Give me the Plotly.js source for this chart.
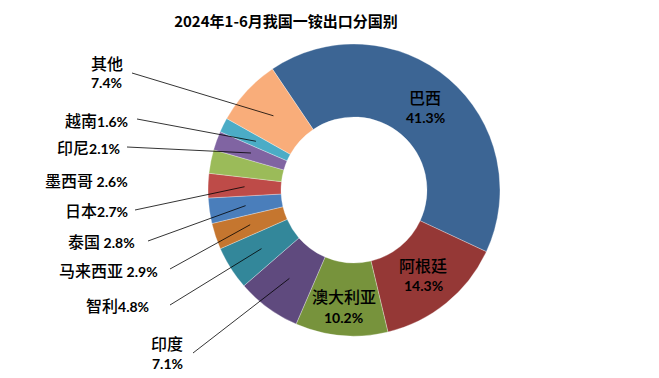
<!DOCTYPE html>
<html><head><meta charset="utf-8">
<script src="https://cdn.plot.ly/plotly-3.0.1.min.js"></script>
<style>html,body{margin:0;padding:0;background:#fff}#chart{width:659px;height:378px}</style>
</head><body><div id="chart"></div>
<script>
const countries = ['巴西','阿根廷','澳大利亚','印度','智利','马来西亚','泰国','日本','墨西哥','印尼','越南','其他'];
const shares = [41.3,14.3,10.2,7.1,4.8,2.9,2.8,2.7,2.6,2.1,1.6,7.4];
const pctLabels = ['41.3%','14.3%','10.2%','7.1%','4.8%','2.9%','2.8%','2.7%','2.6%','2.1%','1.6%','7.4%'];
const colors = ['#3C6594','#953836','#77933C','#5F4A7E','#33879A','#C5762F','#4A7EBB','#BE4B48','#9BBB59','#8064A2','#4BACC6','#F9AD7A'];

const W=659,H=378;
const cx=354, cy=190, R=146, holeFrac=0.5, rotation=-34;
const px=x=>x/W, py=y=>1-y/H;
const CJK='"Noto Sans CJK SC", sans-serif';
const NUM='Lato, "Noto Sans CJK SC", sans-serif';

// slice mid angles (clockwise from 12 o'clock)
const total=shares.reduce((a,b)=>a+b,0);
const mids=[]; let acc=rotation;
shares.forEach(s=>{const a=s/total*360; mids.push(acc+a/2); acc+=a;});
const ringMid=R*(1+holeFrac)/2;
const ptAt=(i,r)=>{const t=mids[i]*Math.PI/180; return [cx+r*Math.sin(t), cy-r*Math.cos(t)];};

const annotations=[], shapes=[];
// inside labels for the three biggest slices
[0,1,2].forEach(i=>{
  const [x,y]=ptAt(i,ringMid+(i===2?7:0));
  annotations.push({xref:'paper',yref:'paper',x:px(x),y:py(y-10),text:countries[i],showarrow:false,
    font:{family:CJK,size:16,color:'#000',weight:500},xanchor:'center',yanchor:'middle'});
  annotations.push({xref:'paper',yref:'paper',x:px(x),y:py(y+11),text:'<b>'+pctLabels[i]+'</b>',showarrow:false,
    font:{family:NUM,size:14,color:'#000'},xanchor:'center',yanchor:'middle'});
});
// outside labels: [index, text anchor x, y, mode, line start x, y]
const outside=[
  [11,107,73,'two',132,73],
  [10,130,120,'right',137,119],
  [9,122,147,'right',127,147],
  [8,130,180,'right',null,null],
  [7,130,210,'right',135,210],
  [6,137,241,'right',148,241],
  [5,160,270,'right',170,269],
  [4,151,305,'right',170,305],
  [3,167,353,'two',193,353]
];
outside.forEach(([i,x,y,mode,lx,ly])=>{
  if(mode==='two'){
    annotations.push({xref:'paper',yref:'paper',x:px(x),y:py(y-10),text:countries[i],showarrow:false,
      font:{family:CJK,size:16,color:'#000',weight:500},xanchor:'center',yanchor:'middle'});
    annotations.push({xref:'paper',yref:'paper',x:px(x),y:py(y+10),text:'<b>'+pctLabels[i]+'</b>',showarrow:false,
      font:{family:NUM,size:14,color:'#000'},xanchor:'center',yanchor:'middle'});
  } else {
    const sep=(i===8||i===6||i===5)?' ':'';
    annotations.push({xref:'paper',yref:'paper',x:px(x),y:py(y),
      text:'<span style="font-family:'+CJK.replace(/"/g,"'")+';font-size:16px;font-weight:500">'+countries[i]+'</span>'+sep+'<b>'+pctLabels[i]+'</b>',
      showarrow:false,font:{family:NUM,size:14,color:'#000'},xanchor:'right',yanchor:'middle'});
  }
  if(lx!==null){
    const [ex,ey]=ptAt(i,ringMid);
    shapes.push({type:'line',xref:'paper',yref:'paper',x0:px(lx),y0:py(ly),x1:px(ex),y1:py(ey),
      line:{color:'#000',width:0.8}});
  }
});

const data=[{type:'pie',labels:countries,values:shares,sort:false,direction:'clockwise',rotation:rotation,
  hole:holeFrac,textinfo:'none',hoverinfo:'label+percent',
  marker:{colors:colors,line:{color:'rgba(255,255,255,0.6)',width:0.5}},
  domain:{x:[(cx-R)/W,(cx+R)/W],y:[1-(cy+R)/H,1-(cy-R)/H]}}];

const layout={width:W,height:H,margin:{l:0,r:0,t:0,b:0},showlegend:false,
  paper_bgcolor:'#fff',
  title:{text:'<b>2024年1-6月我国一铵出口分国别</b>',x:286/W,xanchor:'center',y:1-22/H,yanchor:'middle',yref:'container',
    font:{family:CJK,size:15,color:'#000'}},
  annotations:annotations,shapes:shapes};
Plotly.newPlot('chart',data,layout,{displayModeBar:false,staticPlot:true});
</script></body></html>
